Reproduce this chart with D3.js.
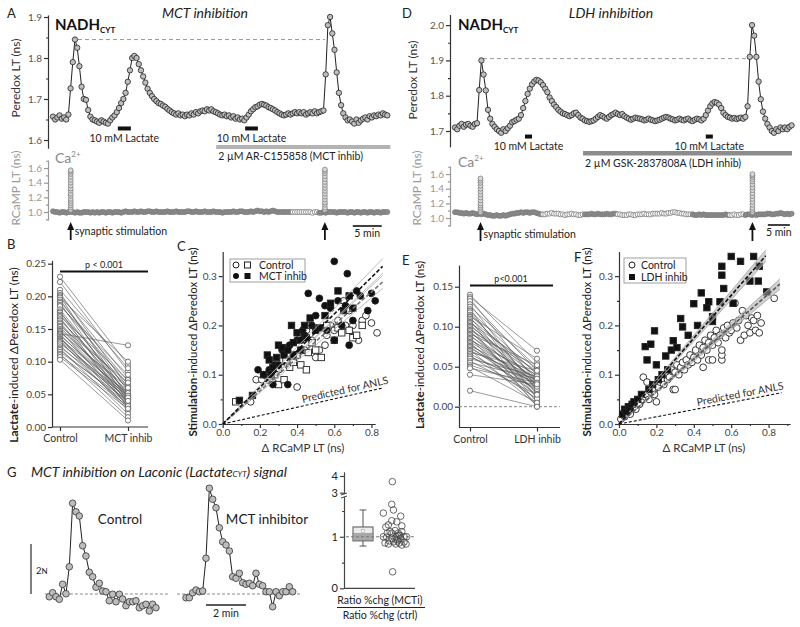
<!DOCTYPE html>
<html><head><meta charset="utf-8">
<script src="https://cdn.jsdelivr.net/npm/d3@7"></script>
<style>body{margin:0;background:#fff}</style>
</head><body>
<svg id="c" width="800" height="627" style="background:#fff"></svg>
<script>
// ================= DATA =================
const peredoxA = [
1.657,1.650,1.655,1.660,1.652,1.655,1.650,1.662,1.726,1.790,
1.845,1.825,1.780,1.730,1.700,1.698,1.673,1.657,1.650,1.648,
1.645,1.642,1.648,1.645,1.642,1.640,1.648,1.655,1.660,1.668,
1.678,1.690,1.700,1.715,1.742,1.770,1.800,1.805,1.800,1.785,
1.770,1.755,1.740,1.725,1.715,1.707,1.700,1.695,1.690,1.688,
1.684,1.681,1.676,1.672,1.668,1.665,1.662,1.665,1.660,1.662,
1.658,1.662,1.660,1.665,1.662,1.668,1.665,1.670,1.672,1.670,
1.675,1.672,1.675,1.670,1.668,1.665,1.662,1.660,1.662,1.658,
1.660,1.655,1.658,1.652,1.655,1.650,1.652,1.648,1.655,1.662,
1.670,1.675,1.680,1.682,1.686,1.688,1.686,1.684,1.680,1.678,
1.675,1.672,1.668,1.665,1.662,1.660,1.662,1.665,1.662,1.665,
1.668,1.665,1.668,1.665,1.668,1.662,1.665,1.668,1.665,1.670,
1.665,1.668,1.670,1.672,1.760,1.880,1.900,1.860,1.820,1.765,
1.715,1.685,1.665,1.655,1.648,1.650,1.645,1.640,1.650,1.642,
1.648,1.652,1.655,1.650,1.658,1.655,1.660,1.658,1.662,1.660,
1.665,1.662,1.660];
const rcampA = [
1.01,1.0,1.0,0.99,1.0,1.0,0.99,1.0,1.0,1.0,
0.99,1.0,0.99,0.99,1.0,1.0,1.0,0.99,1.0,0.99,
1.0,0.99,1.0,1.0,0.99,1.0,1.0,0.99,1.0,1.0,
1.0,0.99,1.0,1.01,1.0,1.0,1.0,1.01,1.0,1.0,
1.01,1.0,1.0,1.01,1.01,1.0,1.0,1.01,1.0,1.0,
1.0,1.0,1.01,1.0,1.0,1.0,1.01,1.0,1.0,1.0,
1.0,1.01,1.01,1.0,1.0,1.01,1.0,1.0,1.0,1.01,
1.0,1.0,1.0,1.01,1.0,1.0,1.0,0.99,1.0,1.0,
1.0,1.0,1.01,1.0,1.0,1.01,1.01,1.0,1.0,1.0,
1.01,1.0,1.01,1.02,1.01,1.01,1.0,1.01,1.0,1.01,
1.02,1.01,1.0,1.0,1.0,1.0,1.0,1.0,1.0,1.0,
1.0,1.0,1.0,1.0,1.0,1.0,1.0,1.0,0.99,1.0,
1.0,0.99,0.99,1.0,0.99,1.0,1.0,1.0,1.0,0.99,
1.0,1.0,1.0,1.0,0.99,1.0,1.0,0.99,1.0,1.0,
0.99,1.0,1.0,0.99,1.0,1.0,0.99,1.0,1.0,0.99,
1.0,1.0,1.0];
const peredoxD = [
1.710,1.705,1.715,1.720,1.712,1.718,1.720,1.715,1.712,1.720,
1.722,1.816,1.900,1.860,1.815,1.760,1.735,1.720,1.712,1.705,
1.700,1.695,1.705,1.700,1.708,1.715,1.725,1.728,1.732,1.735,
1.745,1.765,1.785,1.805,1.820,1.832,1.840,1.845,1.843,1.838,
1.830,1.820,1.810,1.795,1.785,1.775,1.768,1.760,1.755,1.750,
1.748,1.745,1.742,1.745,1.750,1.752,1.745,1.738,1.735,1.730,
1.728,1.726,1.728,1.730,1.735,1.740,1.745,1.742,1.738,1.735,
1.740,1.745,1.748,1.752,1.748,1.745,1.748,1.742,1.738,1.735,
1.732,1.735,1.738,1.736,1.735,1.733,1.730,1.732,1.735,1.732,
1.730,1.728,1.730,1.732,1.735,1.738,1.740,1.738,1.735,1.733,
1.730,1.732,1.735,1.732,1.730,1.733,1.735,1.730,1.728,1.732,
1.735,1.733,1.730,1.735,1.745,1.758,1.770,1.778,1.782,1.780,
1.775,1.765,1.752,1.745,1.740,1.738,1.735,1.737,1.734,1.736,
1.738,1.735,1.740,1.770,1.910,2.000,1.970,1.910,1.840,1.790,
1.755,1.735,1.720,1.710,1.700,1.695,1.705,1.700,1.710,1.705,
1.710,1.705,1.712,1.716];
const rcampD = [
1.08,1.08,1.07,1.07,1.06,1.07,1.06,1.06,1.07,1.06,
1.05,1.06,1.05,1.06,1.05,1.04,1.04,1.03,1.03,1.04,
1.03,1.03,1.04,1.03,1.04,1.05,1.06,1.06,1.07,1.07,
1.08,1.07,1.08,1.08,1.07,1.08,1.08,1.07,1.06,1.05,
1.05,1.05,1.06,1.06,1.07,1.06,1.06,1.06,1.05,1.05,
1.04,1.05,1.05,1.06,1.05,1.05,1.04,1.04,1.05,1.05,
1.05,1.05,1.06,1.05,1.05,1.06,1.05,1.05,1.05,1.06,
1.05,1.05,1.06,1.06,1.05,1.05,1.04,1.04,1.04,1.05,
1.05,1.04,1.04,1.05,1.05,1.05,1.06,1.05,1.05,1.05,
1.06,1.06,1.06,1.06,1.07,1.06,1.06,1.07,1.07,1.08,
1.08,1.07,1.07,1.06,1.06,1.05,1.05,1.05,1.05,1.04,
1.04,1.05,1.04,1.05,1.04,1.04,1.04,1.04,1.04,1.04,
1.04,1.04,1.04,1.05,1.04,1.04,1.04,1.05,1.04,1.04,
1.05,1.05,1.04,1.05,1.05,1.04,1.05,1.04,1.05,1.05,
1.05,1.05,1.06,1.06,1.05,1.05,1.06,1.06,1.07,1.06,
1.05,1.06,1.05,1.06];
const dtA = 0.38, dtD = 0.5;               // minutes per sample
const stimA = [3.06, 46.98], stimD = [5.8, 67.6];
const spikesA = [[1.03,1.06,1.09,1.12,1.15,1.18,1.22,1.25,1.29,1.32,1.36,1.40,1.44,1.48,1.52,1.55,1.57],
                 [1.03,1.06,1.10,1.13,1.17,1.21,1.25,1.29,1.33,1.37,1.41,1.45,1.49,1.53,1.56,1.58]];
const spikesD = [[1.08,1.11,1.14,1.17,1.20,1.24,1.28,1.32,1.36,1.40,1.44,1.48,1.51,1.54],
                 [1.08,1.11,1.14,1.18,1.22,1.26,1.30,1.34,1.38,1.42,1.46,1.50,1.53,1.56,1.58,1.60]];
const lactateA = [[11.2,13.45],[33.2,35.4]], drugA = [28.2,58.3];
const lactateD = [[15.9,17.5],[57.0,58.6]], drugD = [29.1,76.6];
const rcampOpenA = [[109,120]], rcampOpenD = [[40,58],[74,107],[125,131]];
const refA = {level:1.845, from:4.32, to:46.98}, refD = {level:1.905, from:6.36, to:67.05};
const scaleBarA = [51.8,56.8], scaleBarD = [71.1,76.1];

const groupsB = ["Control","MCT inhib"];
const ctrlB = [0.230,0.222,0.210,0.205,0.202,0.200,0.198,0.195,0.192,0.190,0.187,0.185,0.180,0.177,0.175,0.172,0.170,0.168,0.165,0.163,0.160,0.158,0.155,0.153,0.150,0.148,0.147,0.145,0.143,0.142,0.140,0.138,0.136,0.135,0.133,0.132,0.130,0.128,0.125,0.122,0.120,0.118,0.115,0.112,0.110,0.107,0.103];
const mctB = [0.095,0.085,0.090,0.060,0.075,0.045,0.100,0.055,0.070,0.040,0.065,0.080,0.050,0.035,0.058,0.045,0.072,0.030,0.052,0.062,0.042,0.038,0.068,0.048,0.055,0.032,0.045,0.060,0.125,0.040,0.050,0.028,0.035,0.052,0.042,0.025,0.038,0.048,0.030,0.045,0.020,0.035,0.040,0.015,0.032,0.028,0.010];

const groupsE = ["Control","LDH inhib"];
const ctrlE = [0.140,0.137,0.135,0.132,0.128,0.125,0.122,0.120,0.118,0.115,0.113,0.112,0.110,0.108,0.106,0.105,0.103,0.101,0.100,0.098,0.096,0.095,0.093,0.091,0.090,0.088,0.086,0.085,0.083,0.081,0.080,0.078,0.076,0.075,0.073,0.071,0.070,0.068,0.066,0.064,0.062,0.060,0.057,0.055,0.052,0.050,0.048,0.040,0.020];
const ldhE = [0.055,0.070,0.030,0.045,0.020,0.050,0.010,0.040,0.025,0.035,0.060,0.015,0.042,0.005,0.030,0.048,0.022,0.038,0.000,0.032,0.045,0.012,0.028,0.052,0.018,0.035,0.003,0.025,0.040,0.030,0.008,0.020,0.036,0.015,0.028,0.002,0.033,0.045,0.022,0.010,0.030,0.038,0.015,0.035,0.025,0.005,0.030,0.028,0.000];

const ctrlCircC = [[0.15,0.045],[0.18,0.09],[0.21,0.09],[0.25,0.095],[0.27,0.085],[0.30,0.11],[0.35,0.12],[0.38,0.13],[0.40,0.075],[0.44,0.15],[0.45,0.19],[0.47,0.20],[0.48,0.17],[0.50,0.135],[0.52,0.15],[0.55,0.16],[0.56,0.18],[0.58,0.20],[0.60,0.19],[0.62,0.21],[0.65,0.25],[0.66,0.20],[0.68,0.23],[0.70,0.20],[0.72,0.175],[0.73,0.17],[0.75,0.21],[0.77,0.22],[0.80,0.205],[0.83,0.185]];
const ctrlSqC = [[0.07,0.045],[0.22,0.10],[0.28,0.10],[0.30,0.08],[0.33,0.09],[0.34,0.13],[0.36,0.115],[0.38,0.125],[0.40,0.14],[0.42,0.12],[0.45,0.11],[0.46,0.145],[0.48,0.165],[0.50,0.15],[0.53,0.135],[0.56,0.20],[0.60,0.17],[0.62,0.195],[0.64,0.185],[0.68,0.19],[0.70,0.175],[0.72,0.18],[0.75,0.20]];
const mctCircC = [[0.19,0.11],[0.22,0.10],[0.25,0.11],[0.27,0.08],[0.28,0.12],[0.30,0.12],[0.32,0.15],[0.35,0.08],[0.36,0.16],[0.38,0.14],[0.40,0.17],[0.42,0.17],[0.43,0.19],[0.44,0.18],[0.46,0.265],[0.48,0.20],[0.50,0.22],[0.52,0.255],[0.55,0.24],[0.56,0.19],[0.58,0.235],[0.60,0.17],[0.60,0.33],[0.62,0.25],[0.64,0.20],[0.66,0.24],[0.67,0.305],[0.68,0.16],[0.70,0.21],[0.72,0.27],[0.74,0.26],[0.78,0.23],[0.80,0.265],[0.82,0.25]];
const mctSqC = [[0.09,0.048],[0.16,0.058],[0.24,0.14],[0.25,0.13],[0.26,0.10],[0.27,0.115],[0.29,0.135],[0.30,0.16],[0.32,0.155],[0.33,0.14],[0.35,0.15],[0.37,0.20],[0.38,0.165],[0.40,0.185],[0.42,0.15],[0.44,0.20],[0.45,0.175],[0.47,0.215],[0.50,0.19],[0.52,0.195],[0.55,0.22],[0.58,0.245],[0.62,0.27],[0.65,0.23],[0.68,0.26],[0.70,0.235]];
const fitC = {ctrl:0.335, mct:0.372, ctrlCI:[0.32,0.35], mctCI:[0.355,0.39], anls:0.085};

const ctrlF = [[0.01,0.01],[0.02,0.02],[0.03,0.015],[0.04,0.025],[0.05,0.03],[0.06,0.02],[0.07,0.035],[0.08,0.04],[0.09,0.03],[0.10,0.045],[0.11,0.04],[0.12,0.05],[0.13,0.095],[0.14,0.055],[0.15,0.06],[0.15,0.085],[0.16,0.05],[0.17,0.065],[0.18,0.07],[0.19,0.06],[0.20,0.045],[0.20,0.08],[0.21,0.075],[0.22,0.085],[0.23,0.09],[0.24,0.08],[0.25,0.10],[0.26,0.09],[0.27,0.095],[0.28,0.11],[0.29,0.07],[0.30,0.07],[0.30,0.105],[0.31,0.12],[0.32,0.10],[0.33,0.115],[0.34,0.125],[0.35,0.11],[0.36,0.13],[0.37,0.12],[0.38,0.14],[0.39,0.125],[0.40,0.135],[0.41,0.15],[0.42,0.13],[0.43,0.16],[0.44,0.14],[0.45,0.115],[0.45,0.155],[0.46,0.17],[0.47,0.15],[0.48,0.13],[0.48,0.165],[0.49,0.18],[0.50,0.13],[0.50,0.16],[0.51,0.175],[0.52,0.19],[0.53,0.165],[0.54,0.18],[0.55,0.13],[0.55,0.14],[0.55,0.15],[0.56,0.195],[0.57,0.175],[0.58,0.20],[0.59,0.185],[0.60,0.19],[0.61,0.205],[0.62,0.245],[0.63,0.195],[0.64,0.21],[0.65,0.17],[0.66,0.23],[0.67,0.18],[0.68,0.22],[0.69,0.20],[0.70,0.185],[0.71,0.215],[0.72,0.21],[0.73,0.19],[0.74,0.22],[0.75,0.185],[0.76,0.205],[0.83,0.255]];
const ldhF = [[0.02,0.02],[0.03,0.03],[0.04,0.025],[0.05,0.035],[0.06,0.03],[0.07,0.04],[0.08,0.045],[0.10,0.05],[0.12,0.06],[0.14,0.157],[0.15,0.13],[0.16,0.07],[0.17,0.162],[0.18,0.08],[0.19,0.189],[0.20,0.12],[0.21,0.09],[0.23,0.10],[0.25,0.138],[0.26,0.11],[0.28,0.15],[0.29,0.169],[0.31,0.155],[0.33,0.214],[0.34,0.197],[0.37,0.18],[0.40,0.244],[0.42,0.20],[0.44,0.266],[0.47,0.236],[0.48,0.248],[0.50,0.218],[0.50,0.208],[0.54,0.248],[0.55,0.302],[0.55,0.32],[0.56,0.275],[0.60,0.34],[0.61,0.245],[0.65,0.33],[0.70,0.29],[0.72,0.34],[0.745,0.29],[0.79,0.268],[0.75,0.32]];
const fitF = {ctrl:0.33, ldh:0.435, ctrlCI:[0.318,0.342], ldhCI:[0.42,0.45], anls:0.073};

const dtG = 1/6; // 10 s samples, in minutes
const laconicCtrl = [-0.11,0.05,-0.11,-0.21,0.39,0.01,1.09,3.63,3.29,3.12,1.93,1.52,0.87,0.69,0.27,0.43,0.12,0.09,-0.27,-0.01,-0.31,-0.01,-0.2,-0.47,-0.31,-0.31,-0.27,-0.55,-0.47,-0.41,-0.68,-0.41,-0.55];
const laconicMct = [-0.15,-0.15,0.05,0.16,0.09,0.12,1.43,4.23,3.79,3.45,2.65,2.09,1.96,1.72,0.69,0.63,0.83,0.45,0.39,0.43,0.33,0.83,0.39,0.33,0.09,0.09,-0.51,0.09,-0.07,0.09,0.09,0.29,0.09];

const ratioVals = [3.66,1.63,1.52,1.46,1.40,1.31,1.29,1.19,1.23,1.21,1.12,1.10,1.07,1.0,0.99,0.97,1.0,1.03,0.97,0.92,0.90,0.92,0.88,0.90,0.84,0.86,0.86,0.88,0.86,1.0,1.10,0.32,1.03,1.07,1.0,1.07,0.95];
const ratioJitter = [0.44,0.42,0.48,0.12,0.74,0.42,0.6,0.21,0.3,0.78,0.54,0.36,0.65,0.12,0.24,0.42,0.57,0.65,0.74,0.33,0.48,0.63,0.18,0.86,0.78,0.93,0.57,0.69,0.3,0.95,0.78,0.45,0.71,0.42,0.86,0.26,0.6];
const ratioBox = {q1:0.92, q3:1.19, median:1.0, mean:1.11, lo:0.82, hi:1.52, ciLo:0.93, ciHi:1.06};

// ================= DRAWING =================
const svg = d3.select('#c');
const F = 'Lato, "Open Sans", sans-serif';

function txt(x,y,s,o={}){
  const t=svg.append('text').attr('x',x).attr('y',y).attr('font-family',F)
    .attr('font-size',o.size||11).attr('fill',o.fill||'#222').attr('text-anchor',o.anchor||'start').text(s);
  if(o.weight) t.attr('font-weight',o.weight);
  if(o.style) t.attr('font-style',o.style);
  if(o.rotate!=null) t.attr('transform',`rotate(${o.rotate},${x},${y})`);
  return t;
}
function yAxis(x, scale, major, minor, fmt, col, fs, tcol){
  const g=svg.append('g').attr('transform',`translate(${x},0)`);
  g.call(d3.axisLeft(scale).tickValues(major).tickFormat(fmt).tickSize(4).tickSizeOuter(0));
  if(minor&&minor.length){
    const m=g.append('g').call(d3.axisLeft(scale).tickValues(minor).tickFormat('').tickSize(2).tickSizeOuter(0));
    m.select('.domain').remove();
  }
  g.attr('font-family',F).attr('font-size',fs);
  g.selectAll('path,line').attr('stroke',col).attr('stroke-width',1.2);
  g.selectAll('text').attr('fill',tcol||col).attr('x',-6);
  return g;
}
function xAxis(y, scale, major, minor, fmt, col, fs, tcol){
  const g=svg.append('g').attr('transform',`translate(0,${y})`);
  g.call(d3.axisBottom(scale).tickValues(major).tickFormat(fmt).tickSize(4).tickSizeOuter(0));
  if(minor&&minor.length){
    const m=g.append('g').call(d3.axisBottom(scale).tickValues(minor).tickFormat('').tickSize(2).tickSizeOuter(0));
    m.select('.domain').remove();
  }
  g.attr('font-family',F).attr('font-size',fs);
  g.selectAll('path,line').attr('stroke',col).attr('stroke-width',1.2);
  g.selectAll('text').attr('fill',tcol||col).attr('y',5);
  return g;
}
function rotLabel(x,y,parts,size,fill){
  const t=svg.append('text').attr('transform',`translate(${x},${y}) rotate(-90)`).attr('text-anchor','middle')
    .attr('font-family',F).attr('font-size',size).attr('fill',fill||'#222');
  parts.forEach(p=>{const s=t.append('tspan').text(p.t); if(p.b) s.attr('font-weight','bold');});
  return t;
}
function peredox(vals, dt, x, y){
  const t=vals.map((_,i)=>i*dt);
  svg.append('path').attr('d',d3.line().x((d,i)=>x(t[i])).y(d=>y(d))(vals))
    .attr('fill','none').attr('stroke','#222').attr('stroke-width',1);
  svg.append('g').selectAll('circle').data(vals).join('circle')
    .attr('cx',(d,i)=>x(t[i])).attr('cy',d=>y(d)).attr('r',2.7)
    .attr('fill','#bdbdbd').attr('stroke','#222').attr('stroke-width',0.8);
}
function rcamp(vals, dt, x, y, open, stims, spikes){
  const isOpen=i=>open.some(r=>i>=r[0]&&i<=r[1]);
  const g=svg.append('g');
  g.selectAll('circle.b').data(vals).join('circle')
    .attr('cx',(d,i)=>x(i*dt)).attr('cy',d=>y(d)).attr('r',2.5)
    .attr('fill',(d,i)=>isOpen(i)?'#fff':'#8c8c8c').attr('stroke','#7a7a7a').attr('stroke-width',0.8);
  stims.forEach((s,k)=>{
    g.append('g').selectAll('circle').data(spikes[k]).join('circle')
      .attr('cx',x(s)).attr('cy',d=>y(d)).attr('r',2.4)
      .attr('fill','#d8d8d8').attr('stroke','#808080').attr('stroke-width',0.8);
  });
}
function arrow(x,y1,y2){
  svg.append('line').attr('x1',x).attr('x2',x).attr('y1',y2).attr('y2',y1+6).attr('stroke','#111').attr('stroke-width',1.8);
  svg.append('path').attr('d',`M${x},${y1}L${x-3.5},${y1+8}L${x+3.5},${y1+8}Z`).attr('fill','#111');
}
function nadh(x,y){
  const t=svg.append('text').attr('x',x).attr('y',y).attr('font-family',F).attr('font-weight','bold').attr('font-size',15).attr('fill','#111');
  t.append('tspan').text('NADH');
  t.append('tspan').attr('font-size',8).attr('dy',3).text('CYT');
}
function ca(x,y){
  const t=svg.append('text').attr('x',x).attr('y',y).attr('font-family',F).attr('font-size',14).attr('fill','#888');
  t.append('tspan').text('Ca');
  t.append('tspan').attr('font-size',8).attr('dy',-6).text('2+');
}

// ---------- Panel A ----------
const xA=d3.scaleLinear().domain([0,58.3]).range([53,390.4]);
const yA=d3.scaleLinear().domain([1.58,1.905]).range([148.2,14.95]);
const yAr=d3.scaleLinear().domain([0.89,1.71]).range([220.1,160]);
txt(7,18,'A',{size:13});
txt(205,18,'MCT inhibition',{size:14,style:'italic',anchor:'middle'});
yAxis(48,yA,[1.6,1.7,1.8,1.9],[1.65,1.75,1.85],d3.format('.1f'),'#333',10,'#555');
rotLabel(20,78,[{t:'Peredox LT (ns)'}],12,'#333');
svg.append('line').attr('x1',xA(refA.from)).attr('x2',xA(refA.to)).attr('y1',yA(refA.level)).attr('y2',yA(refA.level))
  .attr('stroke','#999').attr('stroke-dasharray','4,3').attr('stroke-width',1);
peredox(peredoxA,dtA,xA,yA);
nadh(55,30);
lactateA.forEach(r=>{
  svg.append('rect').attr('x',xA(r[0])).attr('width',xA(r[1])-xA(r[0])).attr('y',yA(1.633)).attr('height',4).attr('fill','#111');
  txt((xA(r[0])+xA(r[1]))/2,yA(1.633)+16,'10 mM Lactate',{size:10.5,anchor:'middle'});
});
svg.append('rect').attr('x',xA(drugA[0])).attr('width',xA(drugA[1])-xA(drugA[0])).attr('y',145).attr('height',4).attr('fill','#b3b3b3');
txt(xA(drugA[0])+2,160,'2 µM AR-C155858 (MCT inhib)',{size:10.5});
yAxis(48,yAr,[1.0,1.2,1.4,1.6],[0.9,1.1,1.3,1.5,1.7],d3.format('.1f'),'#999',10,'#999');
rotLabel(20,188,[{t:'RCaMP LT (ns)'}],12,'#999');
ca(55,163);
rcamp(rcampA,dtA,xA,yAr,rcampOpenA,stimA,spikesA);
stimA.forEach(s=>arrow(xA(s),222,240));
txt(xA(stimA[0])+4,235,'synaptic stimulation',{size:10.5});
svg.append('line').attr('x1',xA(scaleBarA[0])).attr('x2',xA(scaleBarA[1])).attr('y1',226).attr('y2',226).attr('stroke','#111').attr('stroke-width',1.6);
txt((xA(scaleBarA[0])+xA(scaleBarA[1]))/2,237,'5 min',{size:10.5,anchor:'middle'});

// ---------- Panel D ----------
const xD=d3.scaleLinear().domain([0,76.5]).range([455,791.6]);
const yD=d3.scaleLinear().domain([1.655,2.03]).range([146.9,14.5]);
const yDr=d3.scaleLinear().domain([0.89,1.71]).range([226.1,166]);
txt(402,18,'D',{size:13});
txt(611,18,'LDH inhibition',{size:14,style:'italic',anchor:'middle'});
yAxis(450,yD,[1.7,1.8,1.9,2.0],[1.75,1.85,1.95],d3.format('.1f'),'#333',10,'#555');
rotLabel(417,80,[{t:'Peredox LT (ns)'}],12,'#333');
svg.append('line').attr('x1',xD(refD.from)).attr('x2',xD(refD.to)).attr('y1',yD(refD.level)).attr('y2',yD(refD.level))
  .attr('stroke','#999').attr('stroke-dasharray','4,3').attr('stroke-width',1);
peredox(peredoxD,dtD,xD,yD);
nadh(458,30);
lactateD.forEach(r=>{
  svg.append('rect').attr('x',xD(r[0])).attr('width',xD(r[1])-xD(r[0])).attr('y',yD(1.69)).attr('height',4).attr('fill','#111');
  txt((xD(r[0])+xD(r[1]))/2,yD(1.69)+15,'10 mM Lactate',{size:10.5,anchor:'middle'});
});
svg.append('rect').attr('x',xD(drugD[0])).attr('width',xD(drugD[1])-xD(drugD[0])).attr('y',151).attr('height',4.5).attr('fill','#8c8c8c');
txt(xD(drugD[0])+2,167,'2 µM GSK-2837808A (LDH inhib)',{size:10.5});
yAxis(450,yDr,[1.0,1.2,1.4,1.6],[0.9,1.1,1.3,1.5,1.7],d3.format('.1f'),'#999',10,'#999');
rotLabel(421,188,[{t:'RCaMP LT (ns)'}],12,'#999');
ca(458,167);
rcamp(rcampD,dtD,xD,yDr,rcampOpenD,stimD,spikesD);
stimD.forEach(s=>arrow(xD(s),222,241));
txt(xD(stimD[0])+3,238,'synaptic stimulation',{size:10.5});
svg.append('line').attr('x1',xD(scaleBarD[0])).attr('x2',xD(scaleBarD[1])).attr('y1',225).attr('y2',225).attr('stroke','#111').attr('stroke-width',1.6);
txt((xD(scaleBarD[0])+xD(scaleBarD[1]))/2,236,'5 min',{size:10.5,anchor:'middle'});

// ---------- Paired panels B & E ----------
function paired(cfg){
  const {xs, ys, a, b, letter, lx, ly, axisX, axisEnd, yTicks, yLabelX, yLabelY, yLabelSize, pTxt, pX, pY, lineX, dashed} = cfg;
  txt(lx,ly,letter,{size:13});
  yAxis(axisX,ys,yTicks,[],d3.format('.2f'),'#333',10,'#444');
  svg.append('line').attr('x1',axisX).attr('x2',axisEnd).attr('y1',ys.range()[0]).attr('y2',ys.range()[0]).attr('stroke','#333').attr('stroke-width',1.2);
  const gx=svg.append('g').attr('transform',`translate(0,${ys.range()[0]})`)
    .call(d3.axisBottom(xs).tickSize(4).tickSizeOuter(0));
  gx.select('.domain').remove();
  gx.attr('font-family',F).attr('font-size',10.5);
  gx.selectAll('line').attr('stroke','#333').attr('stroke-width',1.2);
  gx.selectAll('text').attr('fill','#333').attr('y',8);
  if(dashed) svg.append('line').attr('x1',axisX).attr('x2',axisEnd).attr('y1',ys(0)).attr('y2',ys(0)).attr('stroke','#888').attr('stroke-dasharray','3,2');
  const g=svg.append('g');
  const c0=xs.domain()[0], c1=xs.domain()[1];
  g.selectAll('line.p').data(a).join('line').attr('x1',xs(c0)).attr('x2',xs(c1))
    .attr('y1',d=>ys(d)).attr('y2',(d,i)=>ys(b[i])).attr('stroke','#555').attr('stroke-width',0.6);
  g.selectAll('circle.a').data(a).join('circle').attr('cx',xs(c0)).attr('cy',d=>ys(d)).attr('r',2.6).attr('fill','#fff').attr('stroke','#555').attr('stroke-width',0.8);
  g.selectAll('circle.b').data(b).join('circle').attr('cx',xs(c1)).attr('cy',d=>ys(d)).attr('r',2.6).attr('fill','#fff').attr('stroke','#555').attr('stroke-width',0.8);
  rotLabel(yLabelX,yLabelY,[{t:'Lactate',b:true},{t:'-induced ΔPeredox LT (ns)'}],yLabelSize,'#222');
  txt(pX,pY,pTxt,{size:9,anchor:'middle'});
  svg.append('line').attr('x1',lineX[0]).attr('x2',lineX[1]).attr('y1',pY+3.5).attr('y2',pY+3.5).attr('stroke','#111').attr('stroke-width',2);
}
paired({xs:d3.scalePoint().domain(groupsB).range([60,128]), ys:d3.scaleLinear().domain([0,0.255]).range([427,260.4]),
  a:ctrlB,b:mctB,letter:'B',lx:7,ly:249,axisX:52,axisEnd:148,yTicks:[0,0.05,0.1,0.15,0.2,0.25],
  yLabelX:18,yLabelY:355,yLabelSize:12,pTxt:'p < 0.001',pX:104,pY:268,lineX:[60,148],dashed:false});
paired({xs:d3.scalePoint().domain(groupsE).range([470,537]), ys:d3.scaleLinear().domain([-0.026,0.177]).range([427.5,265.1]),
  a:ctrlE,b:ldhE,letter:'E',lx:402,ly:265,axisX:459,axisEnd:560,yTicks:[0,0.05,0.1,0.15],
  yLabelX:424,yLabelY:345,yLabelSize:11.5,pTxt:'p<0.001',pX:511,pY:282,lineX:[470,553],dashed:true});

// ---------- Scatter panels C & F ----------
function scatterAxes(xs,ys,letter,lx,ly,labX,labY,xlabX,xlabY){
  txt(lx,ly,letter,{size:13});
  yAxis(xs.range()[0],ys,[0,0.1,0.2,0.3],[0.05,0.15,0.25],d3.format('.1f'),'#333',10,'#444');
  xAxis(ys.range()[0],xs,[0,0.2,0.4,0.6,0.8],[0.1,0.3,0.5,0.7,0.9].filter(v=>v<=xs.domain()[1]),d3.format('.1f'),'#333',10,'#444');
  rotLabel(labX,labY,[{t:'Stimulation',b:true},{t:'-induced ΔPeredox LT (ns)'}],11.5,'#222');
  txt(xlabX,xlabY,'Δ RCaMP LT (ns)',{size:11.5,anchor:'middle',fill:'#333'});
}
function pts(data,xs,ys,shape,filled){
  const g=svg.append('g');
  if(shape==='c') g.selectAll('circle').data(data).join('circle').attr('cx',d=>xs(d[0])).attr('cy',d=>ys(d[1])).attr('r',3.4)
     .attr('fill',filled?'#111':'#fff').attr('stroke','#222').attr('stroke-width',0.9);
  else g.selectAll('rect').data(data).join('rect').attr('x',d=>xs(d[0])-3.2).attr('y',d=>ys(d[1])-3.2).attr('width',6.4).attr('height',6.4)
     .attr('fill',filled?'#111':'#fff').attr('stroke','#222').attr('stroke-width',0.9);
}
function fitLine(xs,ys,slope,xmax,col,dash,w){
  svg.append('line').attr('x1',xs(0)).attr('y1',ys(0)).attr('x2',xs(xmax)).attr('y2',ys(slope*xmax))
    .attr('stroke',col).attr('stroke-width',w).attr('stroke-dasharray',dash);
}
function band(xs,ys,ci,xmax,fill){
  svg.append('path').attr('d',`M${xs(0)},${ys(0)}L${xs(xmax)},${ys(ci[0]*xmax)}L${xs(xmax)},${ys(ci[1]*xmax)}Z`)
    .attr('fill',fill).attr('stroke','none');
  ci.forEach(s=>fitLine(xs,ys,s,xmax,'#aaa',null,0.9));
}
function anlsText(xs,ys,slope,x0){
  const ang=Math.atan2(ys(slope)-ys(0),xs(1)-xs(0))*180/Math.PI;
  const px=xs(x0), py=ys(slope*x0)-3;
  txt(px,py,'Predicted for ANLS',{size:10.5,rotate:ang,fill:'#333'});
}
// C
const xC=d3.scaleLinear().domain([0,0.82]).range([222.7,375.2]);
const yC=d3.scaleLinear().domain([0,0.35]).range([424,251.5]);
scatterAxes(xC,yC,'C',177,251,197,342,303,452);
pts(ctrlCircC,xC,yC,'c',false); pts(ctrlSqC,xC,yC,'s',false);
pts(mctCircC,xC,yC,'c',true); pts(mctSqC,xC,yC,'s',true);
fitC.ctrlCI.forEach(s=>fitLine(xC,yC,s,0.86,'#b5b5b5',null,0.9));
fitC.mctCI.forEach(s=>fitLine(xC,yC,s,0.86,'#b5b5b5',null,0.9));
fitLine(xC,yC,fitC.ctrl,0.86,'#777','4,2',1.6);
fitLine(xC,yC,fitC.mct,0.86,'#111','4,2',1.6);
fitLine(xC,yC,fitC.anls,0.86,'#111','3,2',1.1);
anlsText(xC,yC,fitC.anls,0.43);
svg.append('rect').attr('x',230).attr('y',259).attr('width',75).attr('height',23).attr('fill','#fff').attr('stroke','#888').attr('stroke-width',0.8);
svg.append('circle').attr('cx',236).attr('cy',265).attr('r',3).attr('fill','#fff').attr('stroke','#222');
svg.append('rect').attr('x',244.5).attr('y',262).attr('width',6).attr('height',6).attr('fill','#fff').attr('stroke','#222');
svg.append('circle').attr('cx',236).attr('cy',276).attr('r',3).attr('fill','#111');
svg.append('rect').attr('x',244.5).attr('y',273).attr('width',6).attr('height',6).attr('fill','#111');
txt(259,268.5,'Control',{size:10.5}); txt(259,279.5,'MCT inhib',{size:10.5});
// F
const xF=d3.scaleLinear().domain([0,0.915]).range([619,790.1]);
const yF=d3.scaleLinear().domain([0,0.35]).range([424,251.5]);
scatterAxes(xF,yF,'F',574,262,591,342,704,452);
pts(ctrlF,xF,yF,'c',false);
pts(ldhF,xF,yF,'s',true);
band(xF,yF,fitF.ctrlCI,0.86,'rgba(170,170,170,0.55)');
band(xF,yF,fitF.ldhCI,0.785,'rgba(170,170,170,0.55)');
fitLine(xF,yF,fitF.ctrl,0.86,'#555','4,2',1.6);
fitLine(xF,yF,fitF.ldh,0.785,'#111','4,2',1.6);
fitLine(xF,yF,fitF.anls,0.87,'#111','3,2',1.1);
anlsText(xF,yF,fitF.anls,0.42);
svg.append('rect').attr('x',624).attr('y',258).attr('width',62).attr('height',25).attr('fill','#fff').attr('stroke','#888').attr('stroke-width',0.8);
svg.append('circle').attr('cx',632).attr('cy',265).attr('r',3).attr('fill','#fff').attr('stroke','#222');
svg.append('rect').attr('x',629).attr('y',274).attr('width',6).attr('height',6).attr('fill','#111');
txt(641,268.5,'Control',{size:10.5}); txt(641,280.5,'LDH inhib',{size:10.5});

// ---------- Panel G ----------
txt(7,477,'G',{size:13});
{
  const t=svg.append('text').attr('x',31).attr('y',477).attr('font-family',F).attr('font-size',14).attr('font-style','italic').attr('fill','#222');
  t.append('tspan').text('MCT inhibition on Laconic (Lactate');
  t.append('tspan').attr('font-size',8).text('CYT');
  t.append('tspan').text(') signal');
}
const yG=d3.scaleLinear().domain([0,1]).range([594,569]);
const xGc=d3.scaleLinear().domain([0,1]).range([49.3,69.3]);
const xGm=d3.scaleLinear().domain([0,1]).range([186,206]);
function laconic(vals,xs,from,to){
  svg.append('line').attr('x1',xs(from)).attr('x2',xs(to)).attr('y1',yG(0)).attr('y2',yG(0)).attr('stroke','#888').attr('stroke-dasharray','3,2');
  svg.append('path').attr('d',d3.line().x((d,i)=>xs(i*dtG)).y(d=>yG(d))(vals)).attr('fill','none').attr('stroke','#222').attr('stroke-width',1);
  svg.append('g').selectAll('circle').data(vals).join('circle').attr('cx',(d,i)=>xs(i*dtG)).attr('cy',d=>yG(d)).attr('r',3.3)
    .attr('fill','#bdbdbd').attr('stroke','#333').attr('stroke-width',0.8);
}
laconic(laconicCtrl,xGc,-0.22,5.93);
laconic(laconicMct,xGm,-0.45,5.7);
txt(120,524,'Control',{size:13.5,anchor:'middle'});
txt(267,524,'MCT inhibitor',{size:13.5,anchor:'middle'});
svg.append('line').attr('x1',31).attr('x2',31).attr('y1',yG(0)).attr('y2',yG(2)).attr('stroke','#555').attr('stroke-width',1.5);
{
  const t=svg.append('text').attr('x',36).attr('y',574).attr('font-family',F).attr('font-size',9.5).attr('fill','#222');
  t.append('tspan').text('2');
  t.append('tspan').attr('font-size',8).text('N');
}
svg.append('line').attr('x1',xGm(1)).attr('x2',xGm(3)).attr('y1',605).attr('y2',605).attr('stroke','#222').attr('stroke-width',1.3);
txt((xGm(1)+xGm(3))/2,617,'2 min',{size:10.5,anchor:'middle'});

// box/ratio plot
const yR=d3.scaleLinear().domain([0,1.83,3,4.25]).range([588.3,494,492.7,471.8]);
const xR=d3.scaleLinear().domain([0,1]).range([380,408]);
yAxis(344,yR,[0,1,3,4],[0.5,1.5],d3.format('d'),'#444',11,'#222');
svg.append('line').attr('x1',344).attr('x2',415).attr('y1',588.3).attr('y2',588.3).attr('stroke','#444').attr('stroke-width',1.2);
svg.append('rect').attr('x',341).attr('y',494).attr('width',6).attr('height',3).attr('fill','#fff');
[494,497].forEach(yy=>svg.append('line').attr('x1',341).attr('x2',347).attr('y1',yy+1).attr('y2',yy-1).attr('stroke','#444').attr('stroke-width',1));
const bx=363, bw=20;
svg.append('line').attr('x1',bx).attr('x2',bx).attr('y1',yR(ratioBox.hi)).attr('y2',yR(ratioBox.q3)).attr('stroke','#555');
svg.append('line').attr('x1',bx).attr('x2',bx).attr('y1',yR(ratioBox.q1)).attr('y2',yR(ratioBox.lo)).attr('stroke','#555');
[ratioBox.hi,ratioBox.lo].forEach(v=>svg.append('line').attr('x1',bx-3.5).attr('x2',bx+3.5).attr('y1',yR(v)).attr('y2',yR(v)).attr('stroke','#555'));
svg.append('rect').attr('x',bx-bw/2).attr('y',yR(ratioBox.q3)).attr('width',bw).attr('height',yR(ratioBox.q1)-yR(ratioBox.q3)).attr('fill','#ececec').attr('stroke','#555');
svg.append('rect').attr('x',bx-bw/2).attr('y',yR(ratioBox.ciHi)).attr('width',bw).attr('height',yR(ratioBox.ciLo)-yR(ratioBox.ciHi)).attr('fill','#a8a8a8').attr('stroke','#777').attr('stroke-width',0.5);
svg.append('rect').attr('x',bx-1.5).attr('y',yR(ratioBox.mean)-1.5).attr('width',3).attr('height',3).attr('fill','#fff').attr('stroke','#aaa').attr('stroke-width',0.6);
svg.append('line').attr('x1',346).attr('x2',415).attr('y1',yR(1)).attr('y2',yR(1)).attr('stroke','#777').attr('stroke-dasharray','3,2');
svg.append('g').selectAll('circle').data(ratioVals).join('circle').attr('cx',(d,i)=>xR(ratioJitter[i])).attr('cy',d=>yR(d)).attr('r',3.3)
  .attr('fill','none').attr('stroke','#444').attr('stroke-width',0.8);
txt(380,604,'Ratio %chg (MCTi)',{size:10.5,anchor:'middle'});
svg.append('line').attr('x1',337).attr('x2',425).attr('y1',607.5).attr('y2',607.5).attr('stroke','#222').attr('stroke-width',1);
txt(380,619,'Ratio %chg (ctrl)',{size:10.5,anchor:'middle'});
</script>
</body></html>
